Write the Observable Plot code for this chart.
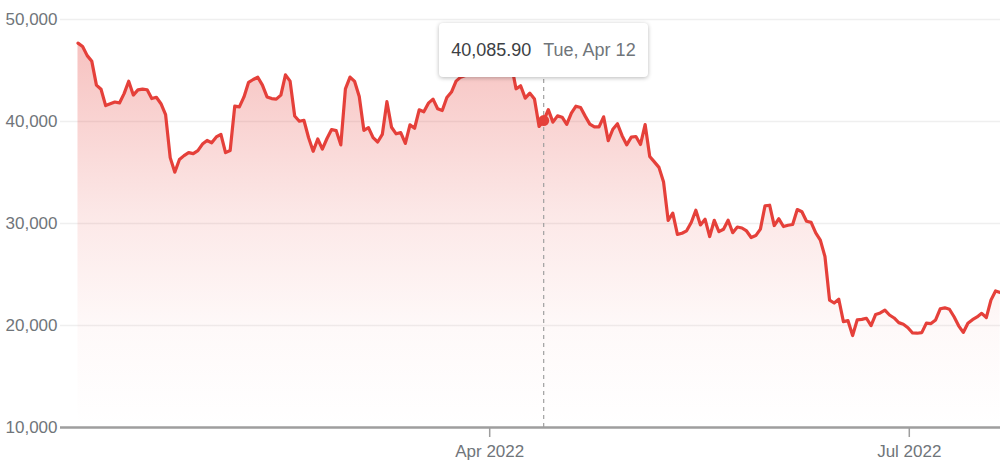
<!DOCTYPE html>
<html>
<head>
<meta charset="utf-8">
<script src="https://cdn.jsdelivr.net/npm/d3@7"></script>
<script src="https://cdn.jsdelivr.net/npm/@observablehq/plot@0.6"></script>
<style>
  html, body { margin: 0; padding: 0; background: #fff; }
  #wrap { position: relative; width: 1000px; height: 465px; overflow: hidden; font-family: Arial, "Liberation Sans", sans-serif; }
  #tip { position: absolute; top: 23px; height: 54px; box-sizing: border-box; padding: 0 12px; background: #fff;
         border-radius: 4px; box-shadow: 0 1px 4px rgba(0,0,0,0.28); display: flex; align-items: center;
         font-size: 18px; white-space: nowrap; }
  #tip .v { color: #3c4043; }
  #tip .d { color: #70757a; margin-left: 12px; }
</style>
</head>
<body>
<div id="wrap"></div>
<script>
// Daily closing values, first point 2022-01-01 (one per day)
const firstDay = "2022-01-01T17:00:00Z";
const jan = [47686, 47345, 46458, 45897, 43569, 43161, 41558, 41734, 41912, 41822, 42736, 43949, 42592, 43099, 43177, 43113, 42250, 42375, 41744, 40680, 36457, 35030, 36276, 36654, 36954, 36852, 37138, 37784, 38138, 37917, 38483];
const feb = [38743, 36952, 37155, 41501, 41441, 42412, 43841, 44118, 44338, 43565, 42407, 42244, 42197, 42587, 44575, 43961, 40538, 40030, 40122, 38431, 37075, 38286, 37296, 38333, 39214, 39105, 37709, 43194];
const mar = [44355, 43925, 42452, 39138, 39400, 38420, 37989, 38731, 41942, 39439, 38794, 38905, 37850, 39666, 39338, 41143, 40951, 41801, 42191, 41248, 41078, 42358, 42892, 43961, 44349, 44500, 46820, 47128, 47466, 47063, 45539];
const apr = [46282, 45869, 46453, 46622, 45556, 43207, 43503, 42287, 42782, 42207, 39521, 40085.90, 41166, 39936, 40553, 40424, 39716, 40827, 41503, 41375, 40527, 39740, 39470, 39469, 40458, 38118, 39241, 39773, 38610, 37714];
const may = [38470, 38529, 37750, 39698, 36576, 36040, 35501, 34059, 30296, 31023, 28936, 29047, 29283, 30102, 31305, 29862, 30425, 28720, 30315, 29200, 29432, 30323, 29098, 29655, 29562, 29268, 28627, 28814, 29445, 31726, 31792];
const jun = [29799, 30467, 29705, 29832, 29906, 31371, 31155, 30215, 30112, 29084, 28374, 26762, 22487, 22206, 22572, 20381, 20472, 19017, 20553, 20599, 20710, 19987, 21085, 21232, 21502, 21028, 20736, 20281, 20123, 19785];
const jul = [19269, 19243, 19297, 20231, 20190, 20548, 21637, 21731, 21592, 20861, 19970, 19323, 20212, 20569, 20836, 21190, 20779, 22485, 23389, 23231];

const yTicks = [10000, 20000, 30000, 40000, 50000];
const xTicks = ["2022-04-01", "2022-07-01"];
const xDomain = ["2021-12-28T22:00:00Z", "2022-07-20T18:45:00Z"];
const selectedDay = 101; // index of Tue, Apr 12

const values = [...jan, ...feb, ...mar, ...apr, ...may, ...jun, ...jul];
const start = new Date(firstDay);
const data = values.map((v, i) => ({date: d3.utcDay.offset(start, i), value: v}));
const sel = data[selectedDay];

const red = "#e5403a";

const gradientDefs = () => {
  const defs = d3.create("svg:defs");
  const g = defs.append("linearGradient").attr("id", "areaGrad")
    .attr("x1", 0).attr("x2", 0).attr("y1", 0).attr("y2", 1);
  g.append("stop").attr("offset", "0%").attr("stop-color", red).attr("stop-opacity", 0.32);
  g.append("stop").attr("offset", "45%").attr("stop-color", red).attr("stop-opacity", 0.12);
  g.append("stop").attr("offset", "75%").attr("stop-color", red).attr("stop-opacity", 0.03);
  g.append("stop").attr("offset", "100%").attr("stop-color", red).attr("stop-opacity", 0);
  return defs.node();
};

const chart = Plot.plot({
  width: 1000,
  height: 465,
  marginTop: 19,
  marginBottom: 38,
  marginLeft: 60,
  marginRight: 0,
  style: {fontFamily: "Arial, 'Liberation Sans', sans-serif", fontSize: "17px", color: "#70757a", background: "#fff"},
  x: {type: "utc", domain: xDomain.map(d => new Date(d)), ticks: xTicks.map(d => new Date(d)),
      tickFormat: d3.utcFormat("%b %Y"), tickSize: 10, tickPadding: 7, label: null},
  y: {domain: [yTicks[0], yTicks[yTicks.length - 1]], ticks: yTicks, tickFormat: d3.format(","),
      tickSize: 0, tickPadding: 3, label: null},
  marks: [
    gradientDefs,
    Plot.ruleY(yTicks.slice(1), {stroke: "#efefef", strokeWidth: 1.5}),
    Plot.areaY(data, {x: "date", y1: yTicks[0], y2: "value", fill: "url(#areaGrad)"}),
    Plot.ruleX([sel], {x: "date", stroke: "#a0a0a0", strokeDasharray: "4,4", strokeWidth: 1.2, insetTop: 20}),
    Plot.line(data, {x: "date", y: "value", stroke: red, strokeWidth: 3.2, strokeLinejoin: "round"}),
    Plot.ruleY([yTicks[0]], {stroke: "#9e9e9e", strokeWidth: 2.5}),
    Plot.dot([sel], {x: "date", y: "value", r: 5.5, fill: red})
  ]
});

const wrap = document.getElementById("wrap");
wrap.appendChild(chart);
d3.select(chart).selectAll("[aria-label='x-axis tick'] path, [aria-label='x-axis tick']").attr("stroke", "#9e9e9e").attr("stroke-width", 1.5);

const tip = document.createElement("div");
tip.id = "tip";
tip.innerHTML = `<span class="v">${d3.format(",.2f")(sel.value)}</span><span class="d">${d3.utcFormat("%a, %b %-d")(sel.date)}</span>`;
wrap.appendChild(tip);
const cx = chart.scale("x").apply(sel.date);
tip.style.left = (cx - tip.offsetWidth / 2) + "px";
</script>
</body>
</html>
